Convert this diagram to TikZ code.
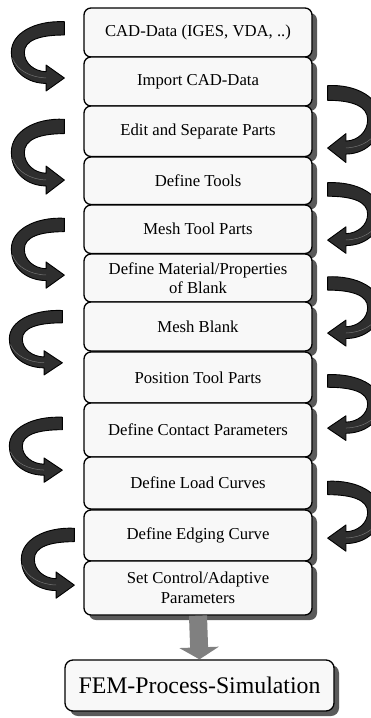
\documentclass[tikz,border=0pt]{standalone}
\usepackage{fontspec}
\setmainfont{Liberation Serif}
\usetikzlibrary{arrows.meta,shadows}
\definecolor{boxFill}{HTML}{F8F8F8}
\definecolor{shadowGray}{HTML}{5A5A5A}
\definecolor{turnGray}{HTML}{2E2E2E}
\definecolor{arrowGray}{HTML}{808080}

% curled arrow: anchor, dx, dy, xscale, yscale
\newcommand{\curlarrow}[5]{%
  \begin{scope}[shift={(#1)}, shift={(#2,#3)}, xscale=#4, yscale=#5]
    \filldraw[T] (0,-6.7) .. controls (-30,-8) and (-53,5) .. (-53,23.6)
      .. controls (-53,45) and (-35,55) .. (-18.3,55) -- (-18.3,62.6) -- (0,49.6)
      -- (-18.3,36.6) -- (-18.3,43.3) .. controls (-30,43) and (-40,35) .. (-40,24)
      .. controls (-40,12) and (-25,6.6) .. (0,6.6) -- cycle;
    \draw[S] (-52,30) .. controls (-47,42) and (-34,49) .. (-18.3,49.5);
  \end{scope}}

\begin{document}
\begin{tikzpicture}[x=1pt, y=-1pt, line join=round]

  \tikzstyle{P}=[draw=black, line width=1.3, fill=boxFill, rounded corners=7, minimum width=228, inner sep=0, align=center, font=\fontsize{16.7}{19.5}\selectfont, drop shadow={shadow xshift=5pt, shadow yshift=-5pt, fill=shadowGray, opacity=1}]
  \tikzstyle{F}=[P, minimum width=269, minimum height=51, rounded corners=8, font=\fontsize{23.8}{28}\selectfont]
  \tikzstyle{T}=[fill=turnGray, draw=black, line width=0.9]
  \tikzstyle{S}=[draw=black!55, line width=0.5]
  \tikzstyle{G}=[draw=arrowGray, line width=18, -{Triangle[length=12pt, width=39pt]}]

  \useasboundingbox (0,0) rectangle (371,718);

  \node[P, minimum height=49] at (198,32.5) (cad) {CAD-Data (IGES, VDA, ..)};
  \node[P, minimum height=49] at (198,81.5) (import) {Import CAD-Data};
  \node[P, minimum height=50.5] at (198,131.25) (edit) {Edit and Separate Parts};
  \node[P, minimum height=47.5] at (198,180.75) (tools) {Define Tools};
  \node[P, minimum height=48.5] at (198,229.25) (meshtools) {Mesh Tool Parts};
  \node[P, minimum height=48] at (198,278) (material) {Define Material/Properties\\of Blank};
  \node[P, minimum height=49] at (198,326.5) (meshblank) {Mesh Blank};
  \node[P, minimum height=51] at (198,377.5) (position) {Position Tool Parts};
  \node[P, minimum height=54] at (198,430) (contact) {Define Contact Parameters};
  \node[P, minimum height=52] at (198,483) (load) {Define Load Curves};
  \node[P, minimum height=51] at (198,535.5) (edging) {Define Edging Curve};
  \node[P, minimum height=54] at (198,588) (control) {Set Control/Adaptive\\Parameters};

  \node[F] at (199.5,685.5) (fem) {FEM-Process-Simulation};

  \draw[G] (control.south) -- (fem.north);

  % left side
  \curlarrow{cad.west}{-19}{-4.1}{1}{1.0}
  \curlarrow{edit.west}{-19}{-4.75}{1}{1.08}
  \curlarrow{meshtools.west}{-19}{-4.25}{1}{1.01}
  \curlarrow{meshblank.west}{-21}{-9.8}{1}{0.93}
  \curlarrow{contact.west}{-21}{-6.5}{1}{0.94}
  \curlarrow{edging.west}{-9}{-0.5}{1}{1.01}

  % right side
  \curlarrow{import.east}{15}{11.5}{-1}{1.11}
  \curlarrow{tools.east}{15}{8.75}{-1}{1.02}
  \curlarrow{material.east}{15}{5.5}{-1}{1.0}
  \curlarrow{position.east}{15}{3.5}{-1}{0.95}
  \curlarrow{load.east}{15}{5}{-1}{1.01}

\end{tikzpicture}
\end{document}
